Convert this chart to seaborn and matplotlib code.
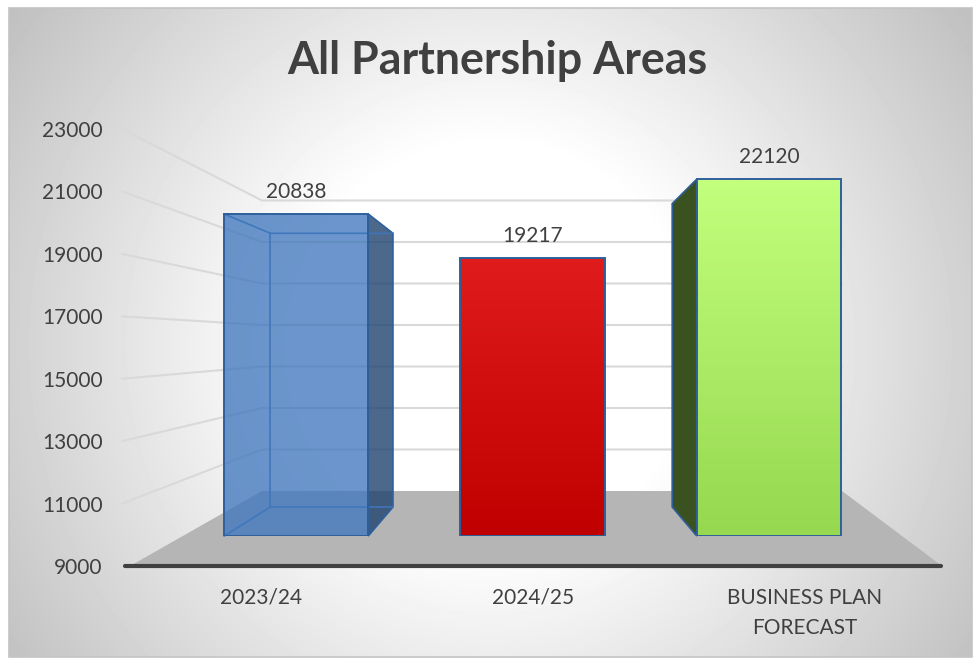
import numpy as np
import pandas as pd
import matplotlib.pyplot as plt
import seaborn as sns
from matplotlib.colors import to_rgba, LinearSegmentedColormap
from matplotlib.patches import Polygon

# Chart values
categories = ['2023/24', '2024/25', 'BUSINESS PLAN\nFORECAST']
values = [20838, 19217, 22120]
y_ticks = [9000, 11000, 13000, 15000, 17000, 19000, 21000, 23000]
title = 'All Partnership Areas'

bar_colors = ['#4178BE', '#D01010', '#A8E860']
side_colors = [to_rgba('#1F4470', 0.8), '#800000', '#3A5220']
grad_colors = [None, ('#C00000', '#E01B1B'), ('#96D850', '#C2FF7C')]

W, H = 974, 659
TEXT = '#404040'

sns.set_style('white')
plt.rcParams['font.family'] = ['Lato', 'DejaVu Sans']


def pixel_axes(x0, y0, x1, y1, z):
    a = fig.add_axes([x0 / W, 1 - y1 / H, (x1 - x0) / W, (y1 - y0) / H], zorder=z)
    a.patch.set_visible(False)
    return a


fig = plt.figure(figsize=(W / 100, H / 100), dpi=100, facecolor='white')

# Background with a radial grey gradient, in pixel coordinates
ax_bg = pixel_axes(0, 0, W, H, 0)
xx, yy = np.meshgrid(np.arange(W), np.arange(H))
r = np.hypot(xx - 490, yy - 345)
shade = 1 - np.clip((r - 200) / 420, 0, 1) * 0.27
ax_bg.imshow(shade, cmap='gray', vmin=0, vmax=1, extent=(0, W, H, 0), aspect='auto')
ax_bg.images[0].set_clip_path(plt.Rectangle((9, 8), W - 11, H - 10, transform=ax_bg.transData))
ax_bg.add_patch(plt.Rectangle((9, 8), W - 11, H - 10, fill=False, ec='#c4c4c4', lw=1.2))
ax_bg.set_xlim(0, W)
ax_bg.set_ylim(H, 0)
ax_bg.axis('off')

# Front plane of the value axis, this carries the tick labels
ax_axis = pixel_axes(125, 129, 941, 566, 1)
ax_axis.set_xlim(-0.5, 2.5)
ax_axis.set_ylim(y_ticks[0], y_ticks[-1])
ax_axis.set_xticks(range(len(categories)))
ax_axis.set_xticklabels(categories, fontsize=15, color=TEXT, linespacing=1.63)
ax_axis.set_yticks(y_ticks)
ax_axis.set_yticklabels([str(t) for t in y_ticks], fontsize=15, color=TEXT)
ax_axis.tick_params(axis='x', length=0, pad=15.5)
ax_axis.tick_params(axis='y', length=0, pad=16)
sns.despine(ax=ax_axis, left=True)
ax_axis.spines['bottom'].set_linewidth(3)
ax_axis.spines['bottom'].set_color('#404040')
ax_axis.spines['bottom'].set_capstyle('round')

# Bars sit on a plane in between, with their own scale
ax_front = pixel_axes(178, 155.2, 887, 536, 2)
df = pd.DataFrame({'category': categories, 'value': values})
sns.barplot(data=df, x='category', y='value', hue='category', palette=bar_colors,
            legend=False, width=0.61, ax=ax_front, edgecolor='#2F5F9B', linewidth=1.4,
            saturation=1)
ax_front.set_xlim(-0.5, 2.5)
ax_front.set_ylim(y_ticks[0], y_ticks[-1])
ax_front.axis('off')
for cont in ax_front.containers:
    # the value axis starts at 9000, not at zero
    bar = cont[0]
    top = bar.get_y() + bar.get_height()
    bar.set_y(y_ticks[0])
    bar.set_height(top - y_ticks[0])
    ax_front.bar_label(cont, fmt='%d', padding=8.5, fontsize=15, color=TEXT)


def to_px(ax, x, y):
    return ax_bg.transData.inverted().transform(ax.transData.transform((x, y)))


# Floor and walls
floor_x = [130, 262, 842, 942]
axis_y = [to_px(ax_axis, 0, t)[1] for t in y_ticks]
wall_y = [491 - (t - y_ticks[0]) * 41.5 / 2000 for t in y_ticks]
ax_bg.add_patch(Polygon([(floor_x[0], axis_y[0]), (floor_x[1], wall_y[0]),
                         (floor_x[2], wall_y[0]), (floor_x[3], axis_y[0])],
                        fc='#B5B5B5', ec='none', zorder=2))
for ay, wy in zip(axis_y[1:], wall_y[1:]):
    ax_bg.plot([122, 262, 842], [ay, wy, wy], color='#D9D9D9', lw=1.5, zorder=3)

# Depth faces behind each bar
BACK = 0.85
VANISH_X = 533
BACK_BASE = 507
for i, cont in enumerate(ax_front.containers):
    bar = cont[0]
    x0, y1 = to_px(ax_front, bar.get_x(), bar.get_y())
    x1, y0 = to_px(ax_front, bar.get_x() + bar.get_width(), bar.get_y() + bar.get_height())
    bx0 = VANISH_X + BACK * (x0 - VANISH_X)
    bx1 = VANISH_X + BACK * (x1 - VANISH_X)
    by0 = BACK_BASE - BACK * (y1 - y0)
    if bx1 > x1:
        ax_bg.add_patch(Polygon([(x1, y0), (bx1, by0), (bx1, BACK_BASE), (x1, y1)],
                                fc=side_colors[i], ec='#2F5F9B', lw=1.2, zorder=4))
    if bx0 < x0:
        ax_bg.add_patch(Polygon([(x0, y0), (bx0, by0), (bx0, BACK_BASE), (x0, y1)],
                                fc=side_colors[i], ec='#2F5F9B', lw=1.2, zorder=4))
    if i == 0:
        # this one is see through, so the back edges show
        bar.set_facecolor(to_rgba(bar_colors[0], 0.78))
        edge = '#3F73B5'
        ax_bg.plot([x0, bx0, bx1], [y0, by0, by0], color=edge, lw=1.2, zorder=5)
        ax_bg.plot([x0, bx0, bx1], [y1, BACK_BASE, BACK_BASE], color=edge, lw=1.2, zorder=5)
        ax_bg.plot([bx0, bx0], [by0, BACK_BASE], color=edge, lw=1.2, zorder=5)
    else:
        # vertical gradient inside the bar
        low, high = grad_colors[i]
        cmap = LinearSegmentedColormap.from_list('bar%d' % i, [low, high])
        im = ax_front.imshow(np.linspace(1, 0, 64).reshape(-1, 1), cmap=cmap, aspect='auto',
                             extent=(bar.get_x(), bar.get_x() + bar.get_width(),
                                     bar.get_y(), bar.get_y() + bar.get_height()), zorder=0.5)
        im.set_clip_path(bar)
        bar.set_facecolor('none')
        bar.set_zorder(1)
ax_front.set_xlim(-0.5, 2.5)
ax_front.set_ylim(y_ticks[0], y_ticks[-1])

fig.text(497 / W, 1 - 61 / H, title, ha='center', va='center', fontsize=32.2,
         fontweight='bold', color=TEXT)

fig.savefig('out.png', dpi=100)
